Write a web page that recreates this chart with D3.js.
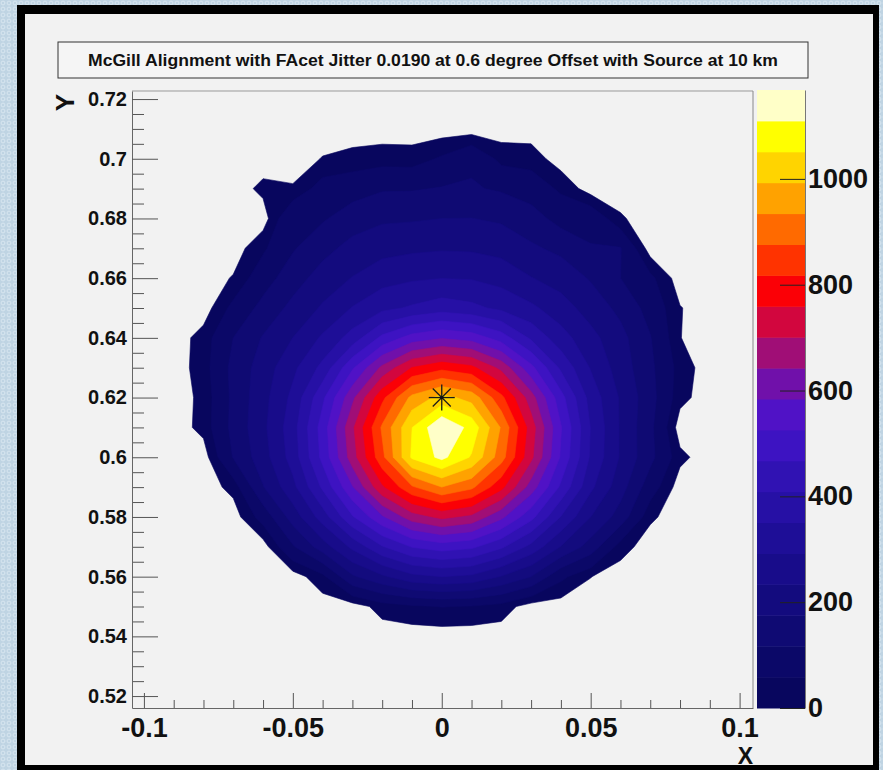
<!DOCTYPE html>
<html><head><meta charset="utf-8">
<script src="https://cdn.jsdelivr.net/npm/d3@7"></script>
<style>
html,body{margin:0;padding:0;background:#c3d7e5;}
svg{display:block;}
text{font-family:"Liberation Sans",Arial,Helvetica,sans-serif;font-weight:bold;fill:#111;}
</style></head><body>
<svg id="chart" width="883" height="770"></svg>
<script>
// ---- data ----
const titleText = "McGill Alignment with FAcet Jitter 0.0190 at 0.6 degree Offset with Source at 10 km";
// grid node positions (x: columns, y: rows top -> bottom)
const xNodes = [-0.10,-0.09,-0.08,-0.07,-0.06,-0.05,-0.04,-0.03,-0.02,-0.01,0.00,0.01,0.02,0.03,0.04,0.05,0.06,0.07,0.08,0.09,0.10];
const yNodes = [0.72,0.71,0.70,0.69,0.68,0.67,0.66,0.65,0.64,0.63,0.62,0.61,0.60,0.59,0.58,0.57,0.56,0.55,0.54,0.53,0.52];
// counts at each node
const zRows = [
 [0,0,0,0,0,0,0,0,0,0,0,0,0,0,0,0,0,0,0,0,0],
 [0,0,0,0,0,0,0,0,0,0,0,0,0,0,0,0,0,0,0,0,0],
 [0,0,0,0,0,0,22,32,39,37,65,107,44,40,0,0,0,0,0,0,0],
 [0,0,0,0,30,24,80,92,111,112,120,122,110,88,50,0,0,0,0,0,0],
 [0,0,0,0,0,110,110,146,166,169,175,176,166,142,95,100,25,0,0,0,0],
 [0,0,0,0,50,111,156,195,214,223,228,226,215,184,162,120,120,0,0,0,0],
 [0,0,0,23,91,149,201,236,270,284,291,288,271,236,209,170,117,70,0,0,0],
 [0,0,0,72,135,192,241,295,335,358,381,365,337,304,259,209,160,95,22,0,0],
 [0,0,35,117,180,234,301,375,482,551,579,560,499,398,316,252,194,120,21,0,0],
 [0,0,38,133,203,278,367,517,656,761,801,774,684,543,397,288,206,130,40,0,0],
 [0,0,30,130,214,307,455,628,802,951,1013,971,833,668,489,327,227,139,32,0,0],
 [0,0,32,133,220,326,494,690,885,1050,1165,1090,928,730,530,348,228,131,0,0,0],
 [0,0,0,120,209,317,484,673,860,1060,1125,1045,901,714,518,342,228,133,30,0,0],
 [0,0,0,32,172,275,419,579,749,868,934,889,776,615,456,305,200,85,0,0,0],
 [0,0,0,0,80,201,320,461,575,672,714,686,597,486,348,234,150,27,0,0,0],
 [0,0,0,0,0,110,205,306,404,470,496,479,419,333,231,150,37,0,0,0,0],
 [0,0,0,0,0,0,45,166,223,275,292,280,230,175,70,21,0,0,0,0,0],
 [0,0,0,0,0,0,0,0,35,50,60,55,40,0,0,0,0,0,0,0,0],
 [0,0,0,0,0,0,0,0,0,0,0,0,0,0,0,0,0,0,0,0,0],
 [0,0,0,0,0,0,0,0,0,0,0,0,0,0,0,0,0,0,0,0,0],
 [0,0,0,0,0,0,0,0,0,0,0,0,0,0,0,0,0,0,0,0,0]
];
const zMax = 1168;
const levelCount = 20;
const emptyCut = 20;
const palette = ["#08065e","#0b0868","#0f0a73","#130b7e","#180c8a","#1e0e97","#2610a5","#3012b3","#3d13c2","#5012c6",
                 "#7010aa","#a00e76","#d2063e","#fb0006","#ff3300","#ff6a00","#ffa200","#ffd400","#ffff00","#ffffc8"];
const marker = {x: 0.0, y: 0.62};
const xMajor = [-0.1,-0.05,0,0.05,0.1];
const xTickLabels = ["-0.1","-0.05","0","0.05","0.1"];
const yMajor = [0.52,0.54,0.56,0.58,0.60,0.62,0.64,0.66,0.68,0.70,0.72];
const yTickLabels = ["0.52","0.54","0.56","0.58","0.6","0.62","0.64","0.66","0.68","0.7","0.72"];
const zTicks = [0,200,400,600,800,1000];
const zTickLabels = ["0","200","400","600","800","1000"];

// ---- drawing ----
const svg = d3.select("#chart");
const defs = svg.append("defs");
const pat = defs.append("pattern").attr("id","dots").attr("width",6).attr("height",6).attr("patternUnits","userSpaceOnUse");
pat.append("rect").attr("width",6).attr("height",6).attr("fill","#bfd4e3");
pat.append("circle").attr("cx",3).attr("cy",3).attr("r",1.9).attr("fill","none").attr("stroke","#d9e7f0").attr("stroke-width",0.9);
svg.append("rect").attr("width",883).attr("height",770).attr("fill","url(#dots)");
svg.append("rect").attr("x",17).attr("y",5).attr("width",862).attr("height",770).attr("fill","#000");
svg.append("rect").attr("x",25).attr("y",14).attr("width",848).attr("height",751).attr("fill","#f2f2f2");

const xScale = d3.scaleLinear().domain([-0.104, 0.1045]).range([132, 753]);
const yScale = d3.scaleLinear().domain([0.516, 0.7227]).range([708, 91]);
const zScale = d3.scaleLinear().domain([0, zMax]).range([708, 90]);

// contours
const n = xNodes.length, m = yNodes.length;
const values = zRows.flat();
const step = zMax / levelCount;
const thresholds = d3.range(levelCount).map(k => k === 0 ? emptyCut : k * step);
const contours = d3.contours().size([n, m]).thresholds(thresholds)(values);
const dxStep = xNodes[1] - xNodes[0];
const dyStep = yNodes[0] - yNodes[1];
const proj = d3.geoTransform({point(gx, gy){
  this.stream.point(xScale(xNodes[0] + (gx - 0.5) * dxStep), yScale(yNodes[0] - (gy - 0.5) * dyStep));
}});
const path = d3.geoPath(proj);
defs.append("clipPath").attr("id","plotclip").append("rect").attr("x",132).attr("y",91).attr("width",621).attr("height",617);
svg.append("g").attr("clip-path","url(#plotclip)")
  .selectAll("path").data(contours).join("path")
  .attr("d", path)
  .attr("fill", (d,i) => palette[i])
  .attr("stroke", (d,i) => palette[i])
  .attr("stroke-width", 0.6)
  .attr("stroke-linejoin","round");

// marker (asterisk)
const mx = xScale(marker.x), my = yScale(marker.y);
const star = svg.append("g").attr("stroke","#1a1a1a").attr("stroke-width",1.3);
[[13,0],[0,13],[9,9],[9,-9]].forEach(([a,b]) => {
  star.append("line").attr("x1",mx-a).attr("y1",my-b).attr("x2",mx+a).attr("y2",my+b);
});
svg.append("circle").attr("cx",mx).attr("cy",my).attr("r",1.6).attr("fill","#111");

// frame
svg.append("line").attr("x1",132).attr("x2",753).attr("y1",91).attr("y2",91).attr("stroke","#999");
svg.append("line").attr("x1",753).attr("x2",753).attr("y1",91).attr("y2",708).attr("stroke","#888");

// y axis
const yMinor = d3.range(0, 41).map(k => +(0.52 + k*0.005).toFixed(3)).filter(v => !yMajor.some(M => Math.abs(M - v) < 1e-6));
const yAxisMinor = svg.append("g").attr("transform","translate(132,0)")
  .call(d3.axisLeft(yScale).tickValues(yMinor).tickFormat("").tickSizeInner(-12).tickSizeOuter(0));
yAxisMinor.select(".domain").remove();
const yAxis = svg.append("g").attr("transform","translate(132,0)")
  .call(d3.axisLeft(yScale).tickValues(yMajor).tickFormat((d,i) => yTickLabels[i]).tickSizeInner(-26).tickSizeOuter(0).tickPadding(5));
yAxis.selectAll("text").attr("font-size",20).attr("font-family",'"Liberation Sans",Arial,sans-serif').attr("font-weight","bold").attr("fill","#111");

// x axis
const xMinor = d3.range(-10, 11).map(k => +(k*0.01).toFixed(2)).filter(v => !xMajor.some(M => Math.abs(M - v) < 1e-6));
const xAxisMinor = svg.append("g").attr("transform","translate(0,708)")
  .call(d3.axisBottom(xScale).tickValues(xMinor).tickFormat("").tickSizeInner(-8).tickSizeOuter(0));
xAxisMinor.select(".domain").remove();
const xAxis = svg.append("g").attr("transform","translate(0,708)")
  .call(d3.axisBottom(xScale).tickValues(xMajor).tickFormat((d,i) => xTickLabels[i]).tickSizeInner(-15).tickSizeOuter(0).tickPadding(10));
xAxis.selectAll("text").attr("font-size",27).attr("font-family",'"Liberation Sans",Arial,sans-serif').attr("font-weight","bold").attr("fill","#111");

[yAxis, yAxisMinor, xAxis, xAxisMinor].forEach(a => {
  a.selectAll("line").attr("stroke","#555");
  a.selectAll(".domain").attr("stroke","#666");
});

// axis titles
svg.append("text").attr("transform","translate(74,94) rotate(-90)").attr("text-anchor","end").attr("font-size",26).text("Y");
svg.append("text").attr("x",753).attr("y",764).attr("text-anchor","end").attr("font-size",23).text("X");

// colour bar
const cb = svg.append("g");
d3.range(levelCount).forEach(k => {
  cb.append("rect").attr("x",757).attr("width",48)
    .attr("y", zScale((k+1)*step)).attr("height", zScale(k*step) - zScale((k+1)*step) + 0.5)
    .attr("fill", palette[k]);
});
const zAxis = svg.append("g").attr("transform","translate(805,0)")
  .call(d3.axisRight(zScale).tickValues(zTicks).tickFormat((d,i) => zTickLabels[i]).tickSizeInner(-25).tickSizeOuter(0).tickPadding(3));
zAxis.selectAll("line").attr("stroke","#222");
zAxis.select(".domain").attr("stroke","#777");
zAxis.selectAll("text").attr("font-size",27).attr("font-family",'"Liberation Sans",Arial,sans-serif').attr("font-weight","bold").attr("fill","#111");

// title box
svg.append("rect").attr("x",58).attr("y",42).attr("width",750).attr("height",36)
  .attr("fill","#f5f5f5").attr("stroke","#333").attr("stroke-width",1);
svg.append("text").attr("x",433).attr("y",66).attr("text-anchor","middle").attr("font-size",16)
  .attr("textLength",690).attr("lengthAdjust","spacingAndGlyphs").text(titleText);
</script></body></html>
